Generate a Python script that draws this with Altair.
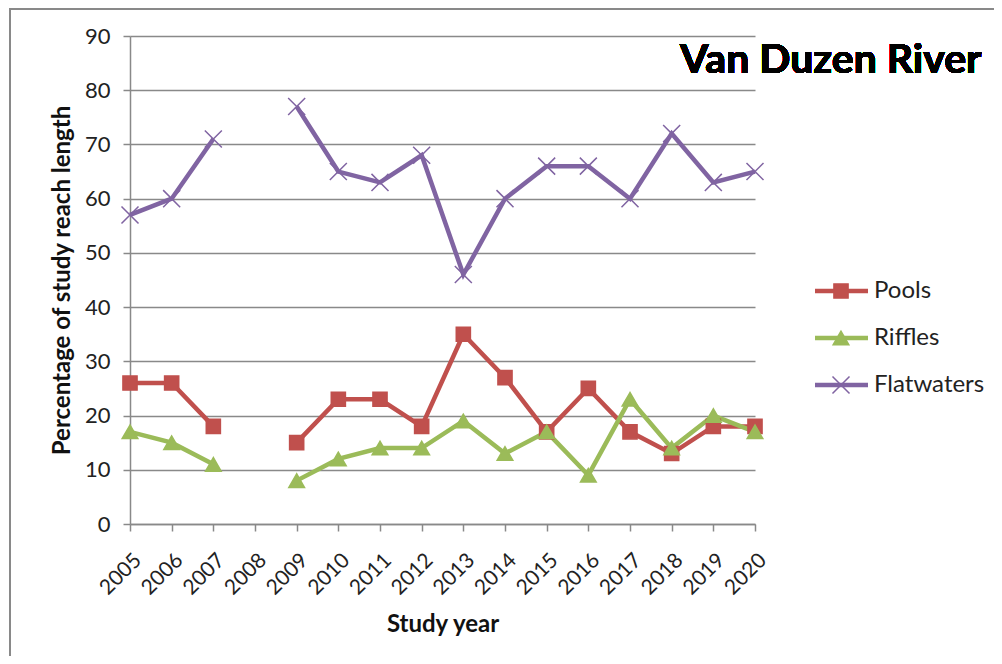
import altair as alt
import pandas as pd

years = [str(y) for y in range(2005, 2021)]
pools = [26, 26, 18, None, 15, 23, 23, 18, 35, 27, 17, 25, 17, 13, 18, 18]
riffles = [17, 15, 11, None, 8, 12, 14, 14, 19, 13, 17, 9, 23, 14, 20, 17]
flatwaters = [57, 60, 71, None, 77, 65, 63, 68, 46, 60, 66, 66, 60, 72, 63, 65]
series_names = ["Pools", "Riffles", "Flatwaters"]
colors = ["#C0504D", "#9BBB59", "#8064A2"]
shapes = ["square", "triangle-up", "M-1,-1L1,1M-1,1L1,-1"]
sizes = [200, 290, 230]
y_ticks = list(range(0, 100, 10))

rows = []
for name, vals in zip(series_names, [pools, riffles, flatwaters]):
    seg = 0
    for yr, v in zip(years, vals):
        if v is None:
            seg += 1
            continue
        rows.append({"year": yr, "value": v, "series": name, "segment": f"{name}-{seg}"})
df = pd.DataFrame(rows)
legend_df = pd.DataFrame({"series": series_names, "idx": list(range(len(series_names)))})

FONT = "Lato"
GRAY = "#898989"

color_scale = alt.Scale(domain=series_names, range=colors)
shape_scale = alt.Scale(domain=series_names, range=shapes)
size_scale = alt.Scale(domain=series_names, range=sizes)

x_enc = alt.X(
    "year:O",
    scale=alt.Scale(type="point", domain=years, padding=0),
    axis=alt.Axis(
        title="Study year", labelAngle=-45, labelFontSize=21, labelColor="#222",
        titleFontSize=24, titleFontWeight="bold", titleColor="#111", titlePadding=14,
        domainColor=GRAY, domainWidth=1.5, tickColor=GRAY, tickWidth=1.5, tickSize=7,
        labelPadding=18, grid=False, labelFont=FONT, titleFont=FONT,
    ),
)
y_enc = alt.Y(
    "value:Q",
    scale=alt.Scale(domain=[0, 90], nice=False, zero=True),
    axis=alt.Axis(
        title="Percentage of study reach length", values=y_ticks, labelFontSize=22,
        labelColor="#222", titleFontSize=24, titleFontWeight="bold", titleColor="#111",
        domainColor=GRAY, domainWidth=1.5, tickColor=GRAY, tickWidth=1.5, tickSize=7,
        gridColor=GRAY, gridWidth=1.5, labelPadding=13, titlePadding=10,
        labelFont=FONT, titleFont=FONT,
    ),
)

lines = alt.Chart(df).mark_line(strokeWidth=4.5).encode(
    x=x_enc, y=y_enc,
    color=alt.Color("series:N", scale=color_scale, legend=None),
    detail="segment:N",
)
points = alt.Chart(df).mark_point(filled=True, opacity=1, strokeWidth=1.5).encode(
    x=alt.X("year:O"), y=alt.Y("value:Q"),
    color=alt.Color("series:N", scale=color_scale, legend=None),
    stroke=alt.Stroke("series:N", scale=color_scale, legend=None),
    shape=alt.Shape("series:N", scale=shape_scale, legend=None),
    size=alt.Size("series:N", scale=size_scale, legend=None),
)
title = alt.Chart(df).mark_text(
    align="left", baseline="alphabetic", fontSize=41, fontWeight="bold",
    font=FONT, fill="#000",
).encode(x=alt.value(550), y=alt.value(37), text=alt.value("Van Duzen River"))
border = alt.Chart(df).mark_rect(fill=None, stroke=GRAY, strokeWidth=2).encode(
    x=alt.value(-120), x2=alt.value(1000), y=alt.value(-27), y2=alt.value(800)
)

main = alt.layer(border, lines, points, title)

ly = alt.Y("idx:Q", scale=alt.Scale(domain=[0, 2], range=[255, 349]), axis=None)
leg_rule = alt.Chart(legend_df).mark_rule(strokeWidth=4.5).encode(
    x=alt.value(685), x2=alt.value(738), y=ly,
    color=alt.Color("series:N", scale=color_scale, legend=None),
)
leg_pt = alt.Chart(legend_df).mark_point(filled=True, opacity=1, strokeWidth=1.5).encode(
    x=alt.value(711), y=ly,
    color=alt.Color("series:N", scale=color_scale, legend=None),
    stroke=alt.Stroke("series:N", scale=color_scale, legend=None),
    shape=alt.Shape("series:N", scale=shape_scale, legend=None),
    size=alt.Size("series:N", scale=size_scale, legend=None),
)
leg_txt = alt.Chart(legend_df).mark_text(
    align="left", baseline="middle", fontSize=24, font=FONT, color="#222"
).encode(x=alt.value(744), y=ly, text="series:N")
legend = alt.layer(leg_rule, leg_pt, leg_txt)

chart = alt.layer(main, legend).resolve_scale(y="independent").properties(
    width=625, height=488,
    autosize=alt.AutoSizeParams(type="none"),
    padding={"left": 122, "top": 28, "right": 239, "bottom": 132},
).configure_view(strokeWidth=0)

chart.save("out.html", embed_options={"renderer": "svg", "actions": False})
